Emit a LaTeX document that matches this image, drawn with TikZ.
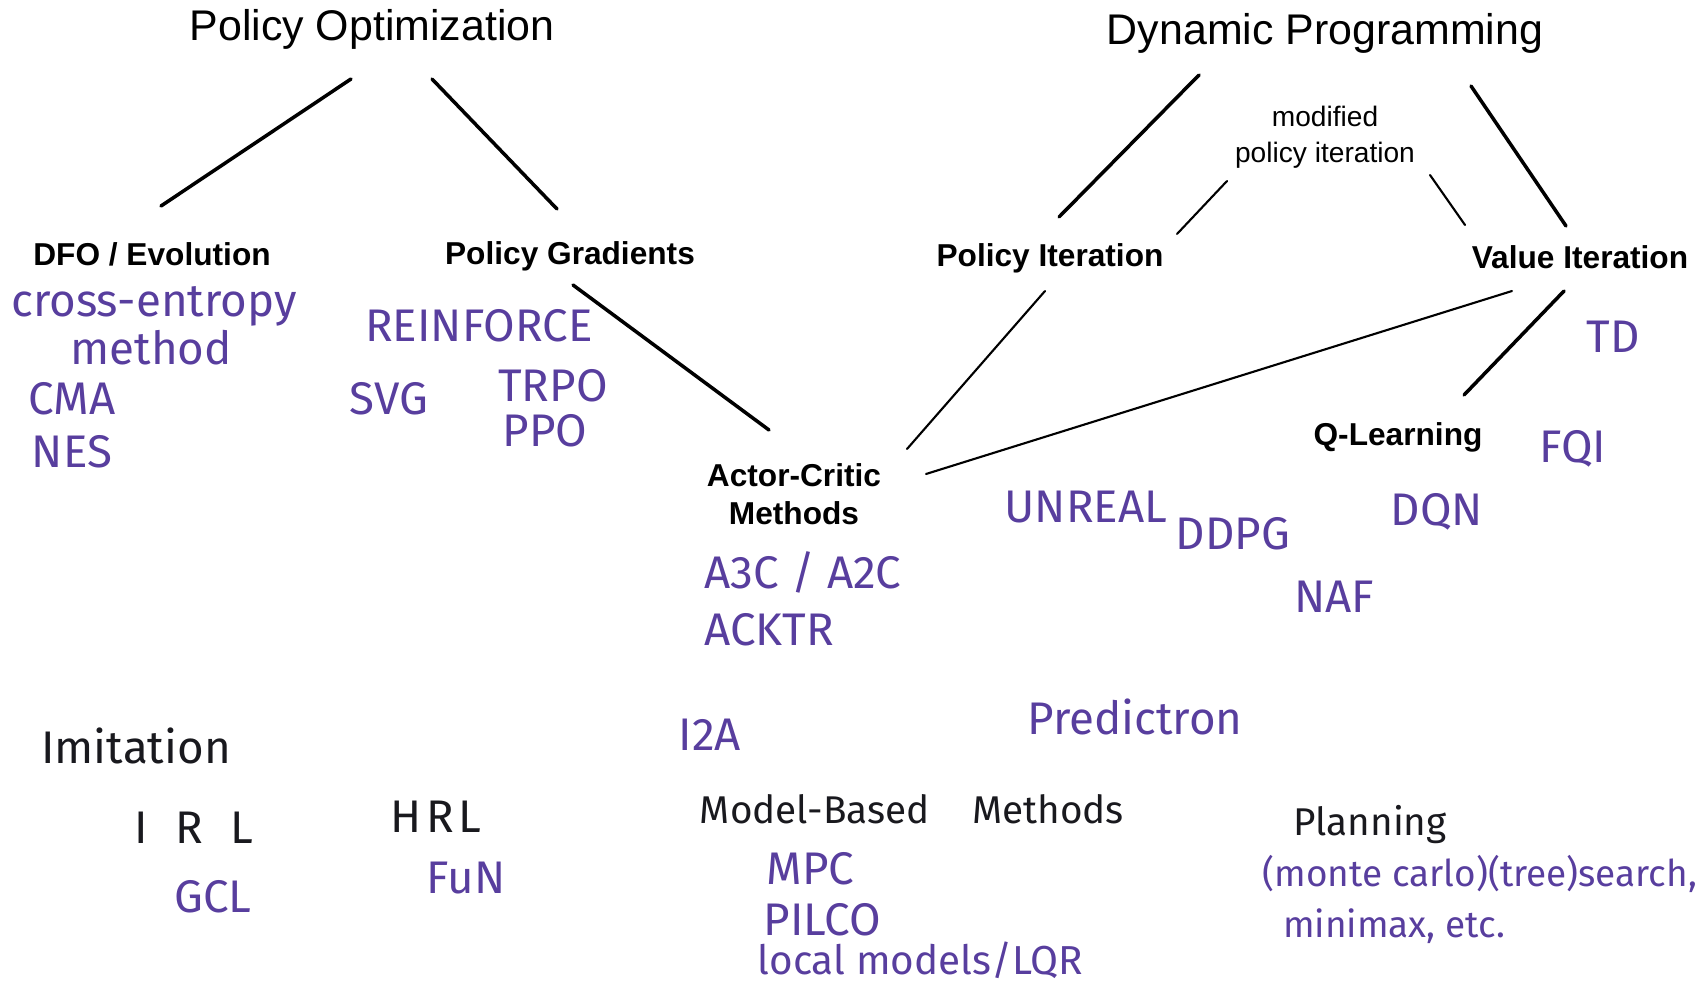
\documentclass[tikz,border=0pt]{standalone}
\usepackage{fontspec}
\setmainfont{Liberation Sans}
\newfontfamily\handfont{Fira Sans}
\usepackage{xcolor}
\usetikzlibrary{positioning}
\definecolor{inkpurple}{RGB}{88,62,158}
\definecolor{inkblack}{RGB}{25,25,30}

\begin{document}
\begin{tikzpicture}[
  x=0.01cm, y=-0.01cm,
  every node/.style={inner sep=0pt, align=center},
  title/.style={font=\fontsize{12.2}{14}\selectfont},
  family/.style={font=\bfseries\fontsize{9}{10.8}\selectfont},
  note/.style={font=\fontsize{8}{10.2}\selectfont},
  algo/.style={font=\handfont\fontsize{13}{15}\selectfont, text=inkpurple},
  topic/.style={font=\handfont\fontsize{13}{15}\selectfont, text=inkblack},
  link/.style={line width=1pt, line cap=round},
  thin link/.style={line width=0.6pt, line cap=round}
]
\useasboundingbox (0,0) rectangle (1703,991);

\node[title] (po) at (372,29) {Policy Optimization};
\node[title] (dp) at (1325,33) {Dynamic Programming};
\node[family] (dfo) at (152,254) {DFO / Evolution};
\node[family] (pg) at (570,256) {Policy Gradients};
\node[family] (pi) at (1050,258) {Policy Iteration};
\node[family] (vi) at (1580,257) {Value Iteration};
\node[note] (mpi) at (1325,137) {modified\\policy iteration};
\node[family] (ac) at (794,494) {Actor-Critic\\Methods};
\node[family] (ql) at (1398,437) {Q-Learning};

\node[algo, align=left, font=\handfont\fontsize{13}{11}\selectfont] (cem) at (154,326) {cross-entropy\\\hspace*{1.3em}method};
\node[algo] (cma) at (72,399) {CMA};
\node[algo] (nes) at (72,452) {NES};
\node[algo] (reinforce) at (479,326) {REINFORCE};
\node[algo] (svg) at (389,399) {SVG};
\node[algo] (trpo) at (553,386) {TRPO};
\node[algo] (ppo) at (545,431) {PPO};
\node[algo] (a3c) at (803,572) {A3C / A2C};
\node[algo] (acktr) at (769,630) {ACKTR};
\node[algo] (unreal) at (1086,507) {UNREAL};
\node[algo] (ddpg) at (1233,534) {DDPG};
\node[algo] (dqn) at (1437,512) {DQN};
\node[algo] (naf) at (1334,597) {NAF};
\node[algo] (td) at (1613,337) {TD};
\node[algo] (fqi) at (1573,449) {FQI};
\node[algo] (predictron) at (1135,717) {Predictron};
\node[algo] (i2a) at (710,735) {I2A};

\node[topic] (imitation) at (136,746) {Imitation};
\node[topic] (irl) at (194,828) {I\hspace{0.6em}R\hspace{0.6em}L};
\node[topic] (hrl) at (436,817) {H\hspace{0.1em}R\hspace{0.1em}L};
\node[topic, font=\handfont\fontsize{11}{13}\selectfont] (mbm) at (912,809) {Model-Based\hspace{1.1em}Methods};
\node[topic, font=\handfont\fontsize{11}{13}\selectfont] (planning) at (1370,825) {Planning};

\node[algo] (gcl) at (213,897) {GCL};
\node[algo] (fun) at (466,878) {FuN};
\node[algo, anchor=west] (mpc) at (766,869) {MPC};
\node[algo, anchor=west] (pilco) at (763,920) {PILCO};
\node[algo, anchor=west, font=\handfont\fontsize{11.5}{13}\selectfont] (lqr) at (757,960) {local models/LQR};
\node[algo, anchor=west, align=left, font=\handfont\fontsize{10.5}{14.5}\selectfont] (search) at (1262,899) {(monte carlo)(tree)search,\\\hspace*{0.55em}minimax, etc.};

\draw[link] ([shift={(-21,50)}]po.center) -- ([shift={(9,-48)}]dfo.center);
\draw[link] ([shift={(60,50)}]po.center) -- ([shift={(-13,-47)}]pg.center);
\draw[link] ([shift={(3,29)}]pg.center) -- ([shift={(-25,-64)}]ac.center);
\draw[link] ([shift={(-126,42)}]dp.center) -- ([shift={(9,-41)}]pi.center);
\draw[link] ([shift={(146,53)}]dp.center) -- ([shift={(-14,-31)}]vi.center);
\draw[thin link] ([shift={(-98,44)}]mpi.center) -- ([shift={(127,-24)}]pi.center);
\draw[thin link] ([shift={(105,38)}]mpi.center) -- ([shift={(-115,-32)}]vi.center);
\draw[thin link] ([shift={(-5,33)}]pi.center) -- ([shift={(113,-45)}]ac.center);
\draw[thin link] ([shift={(-68,34)}]vi.center) -- ([shift={(132,-20)}]ac.center);
\draw[link] ([shift={(-16,34)}]vi.center) -- ([shift={(66,-42)}]ql.center);
\end{tikzpicture}
\end{document}
